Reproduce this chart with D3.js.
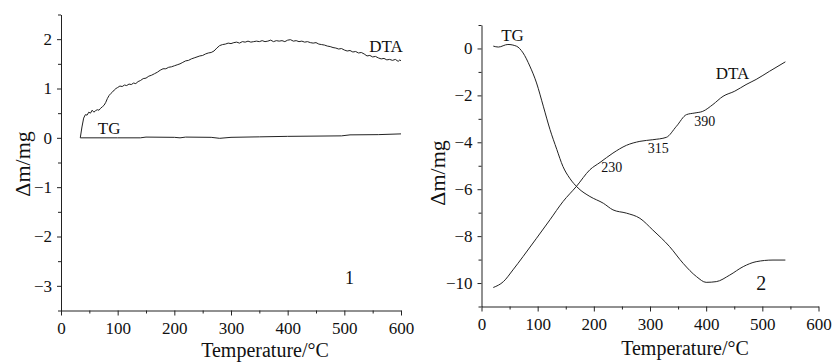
<!DOCTYPE html>
<html>
<head>
<meta charset="utf-8">
<script src="https://cdn.jsdelivr.net/npm/d3@7"></script>
<style>
  html, body { margin: 0; padding: 0; background: #fff; }
  svg { display: block; }
  text { font-family: "Liberation Serif", "Times New Roman", serif; fill: #111; }
</style>
</head>
<body>
<div id="chart"></div>
<script>
// ---- data (temperature °C, Δm/mg) ----
const tempTicks = [0, 100, 200, 300, 400, 500, 600];
const tempMinor = [50, 150, 250, 350, 450, 550];

const leftYTicks = [-3, -2, -1, 0, 1, 2];
const leftYMinor = [-3.5, -2.5, -1.5, -0.5, 0.5, 1.5, 2.5];
const rightYTicks = [0, -2, -4, -6, -8, -10];
const rightYMinor = [1, -1, -3, -5, -7, -9, -11];

// sample 1
const dta1 = [
  [34, 0.00], [37, 0.22], [40, 0.40], [43, 0.47], [46, 0.46], [49, 0.52], [52, 0.50],
  [55, 0.56], [58, 0.52], [61, 0.55], [64, 0.57], [67, 0.56], [70, 0.60], [73, 0.63],
  [76, 0.66], [79, 0.72], [82, 0.80], [85, 0.86], [88, 0.90], [91, 0.93], [94, 0.97],
  [97, 1.00], [100, 1.02], [104, 1.05], [108, 1.04], [112, 1.07], [116, 1.06], [120, 1.09],
  [124, 1.08], [128, 1.11], [132, 1.10], [136, 1.14], [140, 1.16], [145, 1.20], [150, 1.21],
  [155, 1.25], [160, 1.27], [165, 1.30], [170, 1.33], [175, 1.37], [180, 1.40], [185, 1.40],
  [190, 1.43], [195, 1.44], [200, 1.46], [205, 1.48], [210, 1.50], [215, 1.53], [220, 1.56],
  [225, 1.57], [230, 1.60], [235, 1.62], [240, 1.64], [245, 1.66], [250, 1.67], [255, 1.70],
  [260, 1.72], [265, 1.73], [270, 1.76], [275, 1.82], [280, 1.87], [285, 1.89], [290, 1.90],
  [295, 1.92], [300, 1.91], [305, 1.93], [310, 1.94], [315, 1.92], [320, 1.95], [325, 1.94],
  [330, 1.96], [335, 1.94], [340, 1.95], [345, 1.96], [350, 1.95], [355, 1.97], [360, 1.95],
  [365, 1.96], [370, 1.98], [375, 1.95], [380, 1.97], [385, 1.96], [390, 1.97], [395, 1.95],
  [400, 1.98], [405, 1.99], [410, 1.96], [415, 1.97], [420, 1.95], [425, 1.96], [430, 1.94],
  [435, 1.95], [440, 1.93], [445, 1.92], [450, 1.93], [455, 1.90], [460, 1.89], [465, 1.88],
  [470, 1.86], [475, 1.85], [480, 1.83], [485, 1.82], [490, 1.80], [495, 1.81], [500, 1.78],
  [505, 1.76], [510, 1.77], [515, 1.74], [520, 1.75], [525, 1.72], [530, 1.73], [535, 1.70],
  [540, 1.66], [545, 1.67], [550, 1.64], [555, 1.65], [560, 1.62], [565, 1.60], [570, 1.61],
  [575, 1.58], [580, 1.59], [585, 1.57], [590, 1.59], [595, 1.55], [598, 1.58], [600, 1.56]
];
const tg1 = [
  [34, 0.00], [100, 0.00], [140, 0.00], [150, 0.015], [200, 0.01], [210, 0.00],
  [220, 0.015], [265, 0.01], [280, -0.01], [300, 0.01], [350, 0.02], [400, 0.03],
  [450, 0.035], [495, 0.04], [510, 0.06], [560, 0.065], [600, 0.08]
];

// sample 2
const tg2 = [
  [21, 0.10], [30, 0.06], [47, 0.17], [62, 0.10], [74, -0.19], [86, -0.75], [98, -1.47],
  [110, -2.46], [122, -3.46], [134, -4.30], [145, -5.03], [157, -5.53], [172, -5.95],
  [193, -6.31], [217, -6.60], [234, -6.88], [258, -7.02], [282, -7.24], [305, -7.74],
  [335, -8.45], [359, -9.16], [383, -9.73], [400, -9.97], [418, -9.94], [442, -9.66],
  [466, -9.30], [489, -9.09], [519, -9.02], [541, -9.02]
];
const dta2 = [
  [21, -10.19], [39, -9.94], [56, -9.44], [74, -8.87], [98, -8.09], [122, -7.30], [145, -6.53],
  [169, -5.88], [193, -5.17], [211, -4.86], [234, -4.46], [258, -4.13], [282, -3.96],
  [305, -3.89], [329, -3.79], [347, -3.32], [365, -2.82], [380, -2.75], [394, -2.68],
  [412, -2.39], [430, -2.04], [451, -1.82], [471, -1.54], [489, -1.32], [513, -0.97], [541, -0.57]
];

const peakLabels2 = ["230", "315", "390"];

const W = 833, H = 362;
const FONT = '"Liberation Serif", "Times New Roman", serif';
const svg = d3.select('#chart').append('svg').attr('width', W).attr('height', H);
const fmt = d3.format('d');

function drawPanel(p) {
    const x = d3.scaleLinear().domain([0, 600]).range([p.left, p.right]);
    const y = d3.scaleLinear().domain(p.yDomain).range([p.bottom, p.top]);
    const g = svg.append('g');

    const styleTicks = a => a.attr('font-family', FONT)
        .selectAll('text').attr('font-size', '17px').attr('fill', '#111');

    // x axis: major + minor ticks
    g.append('g')
        .attr('transform', `translate(0,${p.bottom})`)
        .call(d3.axisBottom(x).tickValues(tempMinor).tickSize(3).tickFormat(''))
        .call(a => a.select('.domain').remove());
    g.append('g')
        .attr('transform', `translate(0,${p.bottom})`)
        .call(d3.axisBottom(x).tickValues(tempTicks).tickSize(5).tickSizeOuter(0).tickPadding(6).tickFormat(fmt))
        .call(styleTicks);

    // y axis
    g.append('g')
        .attr('transform', `translate(${p.left},0)`)
        .call(d3.axisLeft(y).tickValues(p.yMinor).tickSize(3).tickFormat(''))
        .call(a => a.select('.domain').remove());
    g.append('g')
        .attr('transform', `translate(${p.left},0)`)
        .call(d3.axisLeft(y).tickValues(p.yTicks).tickSize(4).tickSizeOuter(0).tickPadding(5).tickFormat(fmt))
        .call(styleTicks);

    g.selectAll('.domain, .tick line').attr('stroke', '#222');

    // axis titles
    g.append('text')
        .attr('x', p.xTitleX).attr('y', p.xTitleY)
        .attr('text-anchor', 'middle')
        .attr('font-size', '20px')
        .text('Temperature/°C');
    g.append('text')
        .attr('transform', `translate(${p.yTitleX},${p.yTitleY}) rotate(-90)`)
        .attr('text-anchor', 'middle')
        .attr('font-size', '22px')
        .text('Δm/mg');

    // curves
    const line = d3.line()
        .x(d => x(d[0]))
        .y(d => y(d[1]))
        .curve(p.curve);
    p.series.forEach(s => {
        g.append('path')
            .datum(s)
            .attr('d', line)
            .attr('fill', 'none')
            .attr('stroke', '#222')
            .attr('stroke-width', 1);
    });

    // curve labels
    p.labels.forEach(l => {
        g.append('text')
            .attr('x', x(l.t)).attr('y', y(l.v))
            .attr('font-size', l.size)
            .text(l.text);
    });
}

drawPanel({
    left: 61, right: 401, top: 14.5, bottom: 310.5,
    yDomain: [-3.5, 2.5], yTicks: leftYTicks, yMinor: leftYMinor,
    series: [dta1, tg1],
    curve: d3.curveLinear,
    xTitleX: 265, xTitleY: 357,
    yTitleX: 30, yTitleY: 164,
    labels: [
        { t: 544, v: 1.74, text: 'DTA', size: '17px' },
        { t: 65, v: 0.08, text: 'TG', size: '17px' },
        { t: 501, v: -2.97, text: '1', size: '18px' }
    ]
});

drawPanel({
    left: 481.5, right: 818.5, top: 25, bottom: 306.5,
    yDomain: [-11, 1], yTicks: rightYTicks, yMinor: rightYMinor,
    series: [tg2, dta2],
    curve: d3.curveMonotoneX,
    xTitleX: 685, xTitleY: 355,
    yTitleX: 445, yTitleY: 173,
    labels: [
        { t: 35, v: 0.31, text: 'TG', size: '17px' },
        { t: 417, v: -1.32, text: 'DTA', size: '17px' },
        { t: 213, v: -5.25, text: peakLabels2[0], size: '14px' },
        { t: 296, v: -4.46, text: peakLabels2[1], size: '14px' },
        { t: 379, v: -3.32, text: peakLabels2[2], size: '14px' },
        { t: 489, v: -10.3, text: '2', size: '20px' }
    ]
});
</script>
</body>
</html>
